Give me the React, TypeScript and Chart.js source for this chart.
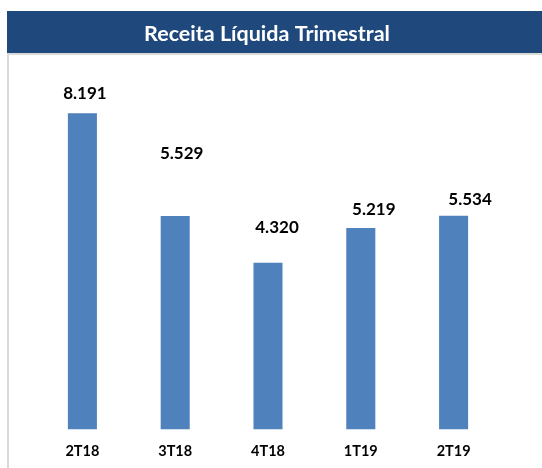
import React, { useEffect, useRef } from "react";
import { Chart, registerables } from "chart.js";

Chart.register(...registerables);

const TITLE = "Receita Líquida Trimestral";
const categories = ["2T18", "3T18", "4T18", "1T19", "2T19"];
const revenue = [8191, 5529, 4320, 5219, 5534];
// label placement offsets (px) relative to each bar's top-center, as in the original
const labelDx = [2.5, 6.5, 9, 13, 16.5];
const labelDy = [-20, -63, -35, -19, -16];

const FONT = "Lato, 'Open Sans', sans-serif";

function fmt(v: number): string {
  const s = String(Math.round(v));
  return s.replace(/\B(?=(\d{3})+(?!\d))/g, ".");
}

const framePlugin = {
  id: "frame",
  beforeDraw(chart: any) {
    const ctx = chart.ctx;
    const W = chart.width;
    const H = chart.height;
    ctx.save();
    ctx.fillStyle = "#ffffff";
    ctx.fillRect(0, 0, W, H);
    ctx.fillStyle = "#1F497D";
    ctx.fillRect(7, 11, W - 7, 42);
    ctx.fillStyle = "#D9D9D9";
    ctx.fillRect(7, 53, W - 7, 2);
    ctx.fillRect(7, 53, 2, H - 53);
    ctx.fillStyle = "#ffffff";
    ctx.font = `bold 21.5px ${FONT}`;
    ctx.textAlign = "center";
    ctx.textBaseline = "middle";
    ctx.fillText(TITLE, 267, 34);
    ctx.restore();
  },
  afterDatasetsDraw(chart: any) {
    const ctx = chart.ctx;
    const meta = chart.getDatasetMeta(0);
    ctx.save();
    ctx.fillStyle = "#000000";
    ctx.font = `bold 17px ${FONT}`;
    ctx.textAlign = "center";
    ctx.textBaseline = "middle";
    meta.data.forEach((bar: any, i: number) => {
      const v = chart.data.datasets[0].data[i] as number;
      ctx.fillText(fmt(v), bar.x + labelDx[i], bar.y + labelDy[i]);
    });
    ctx.restore();
  },
};

export default function App() {
  const ref = useRef<HTMLCanvasElement>(null);
  useEffect(() => {
    if (!ref.current) return;
    const chart = new Chart(ref.current, {
      type: "bar",
      data: {
        labels: categories,
        datasets: [
          {
            data: revenue,
            backgroundColor: "#4F81BD",
            borderWidth: 0,
            categoryPercentage: 1,
            barPercentage: 0.313,
          },
        ],
      },
      options: {
        responsive: false,
        animation: false,
        devicePixelRatio: 1,
        layout: { padding: { top: 82, left: 36, right: 42, bottom: -5 } },
        plugins: {
          legend: { display: false },
          title: { display: false },
          tooltip: { enabled: false },
        },
        scales: {
          x: {
            grid: { display: false, drawTicks: false },
            border: { display: false },
            ticks: {
              color: "#000000",
              padding: 13,
              font: { family: FONT, size: 14.5, weight: "bold" },
            },
          },
          y: {
            display: false,
            min: 0,
            max: 9000,
          },
        },
      },
      plugins: [framePlugin],
    });
    return () => chart.destroy();
  }, []);
  return (
    <div style={{ position: "absolute", left: 0, top: 0, width: 542, height: 468 }}>
      <canvas ref={ref} width={542} height={468} style={{ display: "block" }} />
    </div>
  );
}
